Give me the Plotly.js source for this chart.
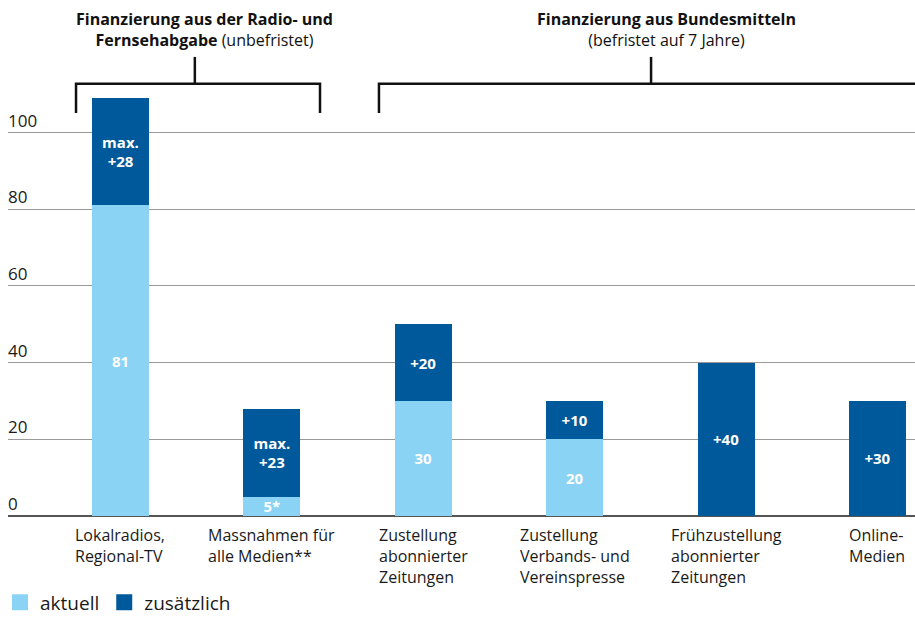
<!DOCTYPE html>
<html><head><meta charset="utf-8">
<script src="https://cdn.plot.ly/plotly-3.0.1.min.js"></script>
<style>html,body{margin:0;padding:0;background:#fff}#chart{width:915px;height:619px}</style>
</head><body><div id="chart"></div>
<script>
const categories = [
  'Lokalradios,<br>Regional-TV',
  'Massnahmen für<br>alle Medien**',
  'Zustellung<br>abonnierter<br>Zeitungen',
  'Zustellung<br>Verbands- und<br>Vereinspresse',
  'Frühzustellung<br>abonnierter<br>Zeitungen',
  'Online-<br>Medien'
];
const aktuell = [81, 5, 30, 20, 0, 0];
const aktuellLabels = ['81', '5*', '30', '20', '', ''];
const zusaetzlich = [28, 23, 20, 10, 40, 30];
const zusaetzlichLabels = ['max.<br>+28', 'max.<br>+23', '+20', '+10', '+40', '+30'];
const yTicks = [0, 20, 40, 60, 80, 100];
const groupTitles = [
  '<b>Finanzierung aus der Radio- und</b><br><b>Fernsehabgabe</b> (unbefristet)',
  '<b>Finanzierung aus Bundesmitteln</b><br>(befristet auf 7 Jahre)'
];
const seriesNames = ['aktuell', 'zusätzlich'];

const FONT = 'Open Sans, Noto Sans, sans-serif';
const LIGHT = '#8BD3F5';
const DARK = '#00599A';

const barText = {family: FONT, size: 15, color: '#ffffff', weight: 'bold'};
const traces = [
  {type: 'bar', name: seriesNames[0], x: categories, y: aktuell, text: aktuellLabels,
   textposition: 'inside', insidetextanchor: 'middle', constraintext: 'none', textangle: 0,
   textfont: barText, marker: {color: LIGHT, line: {width: 0}}, width: 0.376, hoverinfo: 'skip',
   showlegend: false, legendgroup: 'a'},
  {type: 'bar', name: seriesNames[1], x: categories, y: zusaetzlich, text: zusaetzlichLabels,
   textposition: 'inside', insidetextanchor: 'middle', constraintext: 'none', textangle: 0,
   textfont: barText, marker: {color: DARK, line: {width: 0}}, width: 0.376, hoverinfo: 'skip',
   showlegend: false, legendgroup: 'z'},
  // legend-only entries with larger square swatches
  {type: 'scatter', mode: 'markers', name: seriesNames[0], x: [null], y: [null], legendgroup: 'a',
   marker: {symbol: 'square', size: 20, color: LIGHT}, hoverinfo: 'skip'},
  {type: 'scatter', mode: 'markers', name: seriesNames[1], x: [null], y: [null], legendgroup: 'z',
   marker: {symbol: 'square', size: 20, color: DARK}, hoverinfo: 'skip'}
];

const annotations = categories.map(c => ({
  x: c, xref: 'x', y: -0.014, yref: 'paper', yanchor: 'top', xanchor: 'center',
  text: c, align: 'left', showarrow: false, font: {family: FONT, size: 16, color: '#1a1a1a'}
}));
annotations.push({x: 0.217, xref: 'paper', y: 1.05, yref: 'paper', xanchor: 'center', yanchor: 'bottom',
  text: groupTitles[0], align: 'center', showarrow: false, font: {family: FONT, size: 16, color: '#111'}});
annotations.push({x: 0.7255, xref: 'paper', y: 1.05, yref: 'paper', xanchor: 'center', yanchor: 'bottom',
  text: groupTitles[1], align: 'center', showarrow: false, font: {family: FONT, size: 16, color: '#111'}});

const ln = {color: '#111', width: 2.5};
const shapes = [
  {type: 'path', xref: 'paper', yref: 'paper', path: 'M 0.075 0.914 L 0.075 0.980 L 0.344 0.980 L 0.344 0.914', line: ln},
  {type: 'line', xref: 'paper', yref: 'paper', x0: 0.206, x1: 0.206, y0: 0.980, y1: 1.041, line: ln},
  {type: 'path', xref: 'paper', yref: 'paper', path: 'M 0.409 0.914 L 0.409 0.980 L 1.01 0.980', line: ln},
  {type: 'line', xref: 'paper', yref: 'paper', x0: 0.709, x1: 0.709, y0: 0.980, y1: 1.041, line: ln}
];

const layout = {
  width: 915, height: 619,
  margin: {l: 8, r: 0, t: 75, b: 103, autoexpand: false},
  paper_bgcolor: '#fff', plot_bgcolor: '#fff',
  barmode: 'stack',
  font: {family: FONT, color: '#1a1a1a'},
  xaxis: {type: 'category', range: [-0.743, 5.248], showticklabels: false, showgrid: false,
          zeroline: false, showline: false, ticks: '', fixedrange: true},
  yaxis: {range: [0, 115], tickvals: yTicks, ticktext: yTicks.map(String),
          ticklabelposition: 'inside top', ticks: '', ticklen: 0, ticklabelstandoff: -3,
          tickfont: {family: FONT, size: 17, color: '#1a1a1a'},
          showgrid: true, gridcolor: '#9a9a9a', gridwidth: 1,
          zeroline: true, zerolinecolor: '#555', zerolinewidth: 2, showline: false, fixedrange: true},
  showlegend: true,
  legend: {orientation: 'h', xref: 'container', x: 0, xanchor: 'left',
           yref: 'container', y: 0.027, yanchor: 'middle',
           font: {family: FONT, size: 19, color: '#1a1a1a'}, itemwidth: 30, traceorder: 'normal',
           itemsizing: 'trace'},
  annotations: annotations,
  shapes: shapes
};

Plotly.newPlot('chart', traces, layout, {displayModeBar: false, staticPlot: true});
</script></body></html>
